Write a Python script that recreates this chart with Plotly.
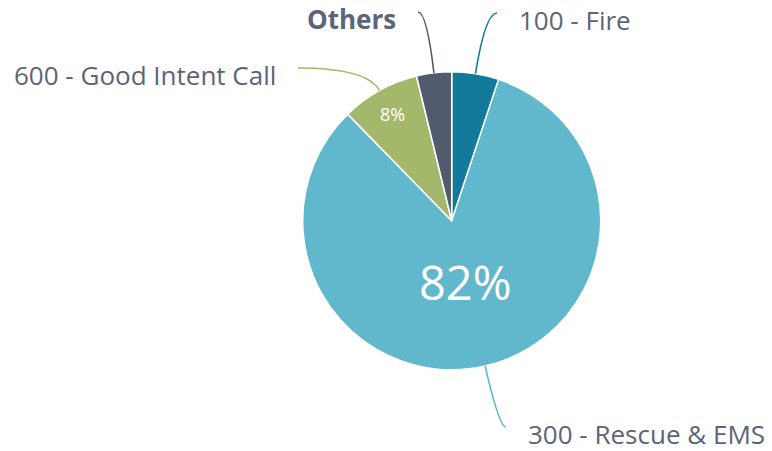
import math
import plotly.graph_objects as go

# ---- data ----
categories = ["100 - Fire", "300 - Rescue & EMS", "600 - Good Intent Call", "Others"]
values = [5.1, 82.6, 8.5, 3.8]
colors = ["#137a9b", "#61b8cc", "#a4b86c", "#525a6d"]
show_pct = [False, True, True, False]

# ---- layout params ----
W, H = 772, 451
CX, CY, R = 451.7, 220.8, 149.0          # pie centre / radius in px
TEXT = "#5b6478"
FONT = "Open Sans, Noto Sans, sans-serif"
# label anchor (px) and side
label_pos = {
    "100 - Fire": (517, 20, "left"),
    "300 - Rescue & EMS": (526, 434, "left"),
    "600 - Good Intent Call": (278, 75, "right"),
    "Others": (398, 19, "right"),
}
pct_radius = [0, 0.42, 0.82, 0]
pct_size = [0, 47, 18, 0]


def px2paper(x, y):
    return x / W, 1 - y / H


fig = go.Figure()
fig.add_trace(go.Pie(
    labels=categories, values=values, sort=False, direction="clockwise",
    rotation=0, textinfo="none", hoverinfo="label+percent",
    marker=dict(colors=colors, line=dict(color="white", width=1.5)),
    domain=dict(x=[(CX - R) / W, (CX + R) / W], y=[1 - (CY + R) / H, 1 - (CY - R) / H]),
    showlegend=False,
))

total = sum(values)
cum = 0.0
shapes, annotations = [], []
for i, (cat, v) in enumerate(zip(categories, values)):
    mid = (cum + v / 2) / total * 2 * math.pi
    cum += v
    dx, dy = math.sin(mid), -math.cos(mid)
    sx, sy = CX + R * dx, CY + R * dy
    lx, ly, side = label_pos[cat]
    ex = lx - 20 if side == "left" else lx + 20
    ey = ly - 7
    t = (ey - sy) / dy
    qx, qy = sx + dx * t, ey
    p0 = px2paper(sx, sy); pc = px2paper(qx, qy); p1 = px2paper(ex, ey)
    shapes.append(dict(type="path", xref="paper", yref="paper",
                       path=f"M {p0[0]} {p0[1]} Q {pc[0]} {pc[1]} {p1[0]} {p1[1]}",
                       line=dict(color=colors[i], width=1.6)))
    ax, ay = px2paper(lx, ly)
    txt = f"<b>{cat}</b>" if cat == "Others" else cat
    annotations.append(dict(x=ax, y=ay, xref="paper", yref="paper", text=txt,
                            showarrow=False, xanchor=side, yanchor="middle",
                            font=dict(family=FONT, size=26, color=TEXT)))
    if show_pct[i]:
        pct = int(v / total * 100)
        r = pct_radius[i] * R
        tx, ty = px2paper(CX + r * dx, CY + r * dy)
        annotations.append(dict(x=tx, y=ty, xref="paper", yref="paper", text=f"{pct}%",
                                showarrow=False, xanchor="center", yanchor="middle",
                                font=dict(family=FONT, size=pct_size[i], color="white")))

fig.update_layout(
    width=W, height=H, margin=dict(l=0, r=0, t=0, b=0),
    paper_bgcolor="white", plot_bgcolor="white",
    shapes=shapes, annotations=annotations,
    font=dict(family=FONT, color=TEXT),
)
fig.write_html("out.html")
